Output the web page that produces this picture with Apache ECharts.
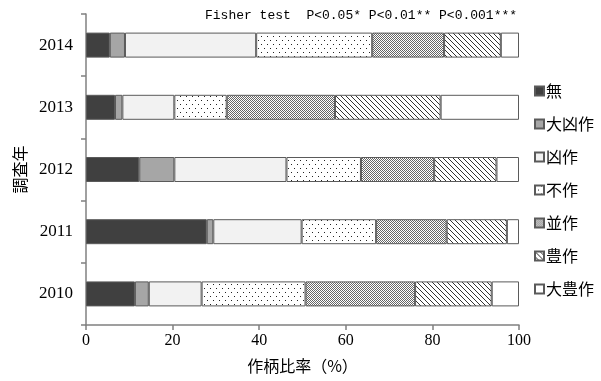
<!DOCTYPE html>
<html><head><meta charset="utf-8">
<script src="https://cdn.jsdelivr.net/npm/echarts@6/dist/echarts.min.js"></script>
<style>html,body{margin:0;padding:0;background:#fff}#c{width:601px;height:381px}</style>
</head><body><div id="c"></div>
<script>
const years = ['2010','2011','2012','2013','2014'];
const names = ['無','大凶作','凶作','不作','並作','豊作','大豊作'];
const mu       = [11.3, 27.9, 12.3, 6.7, 5.5];
const daikyo   = [3.2, 1.5, 8.1, 1.7, 3.5];
const kyo      = [12.2, 20.4, 25.9, 12.0, 30.3];
const fusaku   = [24.0, 17.2, 17.2, 12.1, 26.8];
const namisaku = [25.3, 16.3, 16.9, 25.0, 16.6];
const hosaku   = [17.7, 13.9, 14.4, 24.4, 13.1];
const daiho    = [6.3, 2.8, 5.2, 18.1, 4.2];
const xTicks = [0, 20, 40, 60, 80, 100];
const note = 'Fisher test  P<0.05* P<0.01** P<0.001***';

function pat(w, h, draw) {
  const c = document.createElement('canvas');
  c.width = w; c.height = h;
  const g = c.getContext('2d');
  g.fillStyle = '#fff'; g.fillRect(0, 0, w, h);
  draw(g);
  return { image: c, repeat: 'repeat' };
}
const dotted = pat(6, 8, g => { g.fillStyle = '#222'; g.fillRect(0, 0, 1, 1); g.fillRect(3, 4, 1, 1); });
const dense = pat(4, 4, g => {
  g.fillStyle = '#666';
  g.fillRect(0, 0, 1, 1); g.fillRect(2, 0, 1, 1); g.fillRect(1, 1, 1, 1); g.fillRect(3, 1, 1, 1);
  g.fillRect(0, 2, 1, 1); g.fillRect(2, 2, 1, 1); g.fillRect(1, 3, 1, 1); g.fillRect(3, 3, 1, 1);
});
const stripes = pat(5, 5, g => {
  g.fillStyle = '#333';
  for (let i = 0; i < 5; i++) { g.fillRect(i, i, 1, 1); }
});
const colors = ['#404040', '#a6a6a6', '#f2f2f2', dotted, dense, stripes, '#ffffff'];
const values = [mu, daikyo, kyo, fusaku, namisaku, hosaku, daiho];

const chart = echarts.init(document.getElementById('c'), null, { renderer: 'canvas' });
const axisCol = '#808080';
chart.setOption({
  animation: false,
  textStyle: { fontFamily: 'Noto Sans CJK JP', color: '#000' },
  grid: { left: 86, right: 82, top: 14, bottom: 56 },
  legend: {
    orient: 'vertical', left: 529, top: 78,
    itemWidth: 9, itemHeight: 9, itemGap: 17,
    icon: 'rect',
    textStyle: { fontSize: 16, color: '#000', fontFamily: 'Noto Sans CJK JP', padding: [0, 0, 0, -3] },
    data: names
  },
  graphic: [{
    type: 'text', left: 205, top: 9,
    style: { text: note, font: '13px "Liberation Mono"', fill: '#000' }
  }],
  xAxis: {
    type: 'value', min: 0, max: 100, interval: 20,
    name: '作柄比率（%）', nameLocation: 'middle', nameGap: 33,
    nameTextStyle: { fontSize: 16, color: '#000', fontFamily: 'Noto Sans CJK JP' },
    axisLine: { show: true, lineStyle: { color: axisCol, width: 1.5 } },
    axisTick: { show: true, length: 5, lineStyle: { color: axisCol, width: 1.5 } },
    splitLine: { show: false },
    axisLabel: { fontSize: 16, color: '#000', fontFamily: 'Liberation Serif', margin: 8,
      formatter: v => xTicks.includes(v) ? String(v) : '' }
  },
  yAxis: {
    type: 'category', data: years,
    name: '調査年', nameLocation: 'middle', nameGap: 56, nameRotate: 90,
    nameTextStyle: { fontSize: 16, color: '#000', fontFamily: 'Noto Sans CJK JP' },
    axisLine: { show: true, lineStyle: { color: axisCol, width: 1.5 } },
    axisTick: { show: true, length: 5, lineStyle: { color: axisCol, width: 1.5 } },
    axisLabel: { fontSize: 17, color: '#000', fontFamily: 'Liberation Serif', margin: 13 }
  },
  series: names.map((n, i) => ({
    name: n, type: 'bar', stack: 'all', barWidth: 25,
    data: values[i],
    itemStyle: { color: colors[i], borderColor: '#5a5a5a', borderWidth: 1 },
    emphasis: { disabled: true }
  }))
});
</script></body></html>
